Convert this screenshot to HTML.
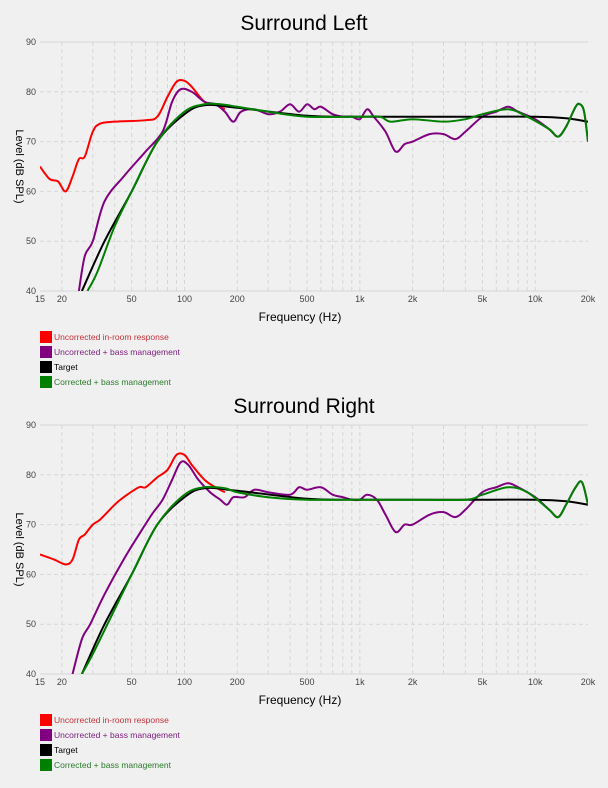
<!DOCTYPE html>
<html><head><meta charset="utf-8">
<style>
html,body{margin:0;padding:0;background:#f0f0f0;}
body{width:608px;height:788px;overflow:hidden;font-family:"Liberation Sans",sans-serif;}
svg{display:block}
</style></head>
<body>
<svg id="s" width="608" height="788" xmlns="http://www.w3.org/2000/svg" font-family="Liberation Sans, sans-serif"></svg>
<script>
const S=document.getElementById('s');
const L=40,R=588,f0=15,f1=20000;
function X(f){return L+(Math.log10(f/f0))/Math.log10(f1/f0)*(R-L);}
let h='';
function chart(top,title,series){
  const bot=top+249;
  const Y=v=>top+(90-v)/50*249;
  h+=`<text x="304" y="${top-12}" text-anchor="middle" font-size="21" fill="#000">${title}</text>`;
  h+=`<clipPath id="c${top}"><rect x="${L}" y="${top}" width="${R-L}" height="249"/></clipPath>`;
  const vf=[20,30,40,50,60,70,80,90,100,200,300,400,500,600,700,800,900,1000,2000,3000,4000,5000,6000,7000,8000,9000,10000];
  vf.forEach(f=>{h+=`<line x1="${X(f)}" x2="${X(f)}" y1="${top}" y2="${bot}" stroke="#d6d6d6" stroke-dasharray="4,3"/>`});
  [50,60,70,80].forEach(v=>{h+=`<line x1="${L}" x2="${R}" y1="${Y(v)}" y2="${Y(v)}" stroke="#d6d6d6" stroke-dasharray="4,3"/>`});
  h+=`<line x1="${L}" x2="${R}" y1="${top}" y2="${top}" stroke="#d6d6d6"/>`;
  h+=`<line x1="${L}" x2="${R}" y1="${bot}" y2="${bot}" stroke="#d6d6d6"/>`;
  [90,80,70,60,50,40].forEach(v=>{h+=`<text x="${L-4}" y="${Y(v)+3}" text-anchor="end" font-size="9" fill="#444">${v}</text>`});
  [[15,'15'],[20,'20'],[50,'50'],[100,'100'],[200,'200'],[500,'500'],[1000,'1k'],[2000,'2k'],[5000,'5k'],[10000,'10k'],[20000,'20k']].forEach(([f,t])=>{h+=`<text x="${X(f)}" y="${bot+11}" text-anchor="middle" font-size="9" fill="#444">${t}</text>`});
  h+=`<text x="300" y="${bot+30}" text-anchor="middle" font-size="12" fill="#000">Frequency (Hz)</text>`;
  h+=`<text transform="translate(16,${(top+bot)/2}) rotate(90)" text-anchor="middle" font-size="11" fill="#000">Level (dB SPL)</text>`;
  h+=`<g clip-path="url(#c${top})">`;
  series.forEach(([col,pts])=>{
    const p=pts.map(([f,v])=>[X(f),Y(v)]);
    let d=`M${p[0][0]},${p[0][1]}`;
    for(let i=0;i<p.length-1;i++){
      const p0=p[i-1]||p[i],p1=p[i],p2=p[i+1],p3=p[i+2]||p2;
      d+=` C${p1[0]+(p2[0]-p0[0])/6},${p1[1]+(p2[1]-p0[1])/6} ${p2[0]-(p3[0]-p1[0])/6},${p2[1]-(p3[1]-p1[1])/6} ${p2[0]},${p2[1]}`;
    }
    h+=`<path d="${d}" fill="none" stroke="${col}" stroke-width="2"/>`;
  });
  h+=`</g>`;
  const leg=[['#ff0000','#c8303a','Uncorrected in-room response'],['#800080','#7a207a','Uncorrected + bass management'],['#000','#000','Target'],['#008000','#2a7a2a','Corrected + bass management']];
  leg.forEach(([c,tc,t],i)=>{const y=bot+40+i*15;
    h+=`<rect x="40" y="${y}" width="12" height="12" fill="${c}"/><text x="54" y="${y+9}" font-size="8.5" fill="${tc}">${t}</text>`});
}
const redL=[[15,65],[17,62.5],[19,62],[21,60],[23,63],[25,66.5],[27,67],[30,72],[33,73.6],[40,74],[60,74.3],[70,75],[80,79],[90,82],[100,82.2],[110,81],[130,78],[150,77.5],[170,76.5]];
const purL=[[25,40],[27,47],[30,50],[35,58],[45,63],[60,68],[75,72],[85,78],[95,80.5],[110,80],[130,78],[150,77.5],[170,76],[190,74],[210,76],[250,76.5],[300,75.5],[350,76],[400,77.5],[450,76],[500,77.5],[550,76.5],[600,77],[700,75.5],[800,75],[900,75],[1000,74.5],[1100,76.5],[1200,75],[1400,72],[1600,68],[1800,69.5],[2000,70],[2500,71.5],[3000,71.5],[3500,70.5],[4000,72],[5000,75],[6000,76],[7000,77],[8000,76],[10000,74.5],[12000,72.5],[13500,71],[15000,73],[17000,77],[18000,77.5],[19000,76],[20000,70]];
const grnL=[[28,40],[32,44],[40,53],[50,60],[70,70],[100,76],[130,77.5],[160,77.5],[200,77],[300,76],[500,75],[1000,75],[1300,75],[1500,74],[2000,74.5],[3000,74],[4000,74.5],[5000,75.5],[7000,76.5],[9000,75],[12000,72.5],[13500,71],[15000,73],[17000,77],[18000,77.5],[19000,76],[20000,70]];
const blk=[[26,40],[35,50],[50,60],[70,70],[100,75.5],[130,77.3],[200,76.8],[500,75.2],[1000,75],[5000,75],[10000,75],[15000,74.7],[20000,74]];
chart(42,'Surround Left',[['#ff0000',redL],['#800080',purL],['#000',blk],['#008000',grnL]]);
const redR=[[15,64],[18,63],[21,62],[23,63],[25,67],[27,68],[30,70],[33,71],[40,74],[45,75.5],[55,77.5],[60,77.5],[70,79.5],[80,81],[90,84],[100,84],[110,82],[130,79],[150,77.5],[170,76.5]];
const purR=[[23,40],[26,47],[29,50],[35,56],[45,63],[55,68],[65,72],[75,75],[85,79],[95,82.5],[105,82],[120,79],[140,76.5],[160,75],[175,74],[190,75.5],[220,75.5],[250,77],[300,76.5],[400,76],[450,77.5],[500,77],[600,77.5],[700,76],[800,75.5],[900,75],[1000,75],[1100,76],[1250,75],[1400,72],[1600,68.5],[1800,70],[2000,70],[2500,72],[3000,72.5],[3500,71.5],[4000,73],[5000,76.5],[6000,77.5],[7000,78.3],[8000,77.5],[10000,75.5],[12000,73],[13500,71.5],[15000,74],[17000,77.5],[18500,78.5],[20000,74]];
const grnR=[[26,40],[30,44],[40,53],[50,60],[70,70],[100,76],[130,77.5],[170,77.3],[200,76.5],[300,75.5],[500,75],[1000,75],[2000,75],[4000,75],[5000,76],[7000,77.5],[9000,76.5],[12000,73],[13500,71.5],[15000,74],[17000,77.5],[18500,78.5],[20000,74]];
chart(425,'Surround Right',[['#ff0000',redR],['#800080',purR],['#000',blk],['#008000',grnR]]);
S.innerHTML=h;
</script>
</body></html>
